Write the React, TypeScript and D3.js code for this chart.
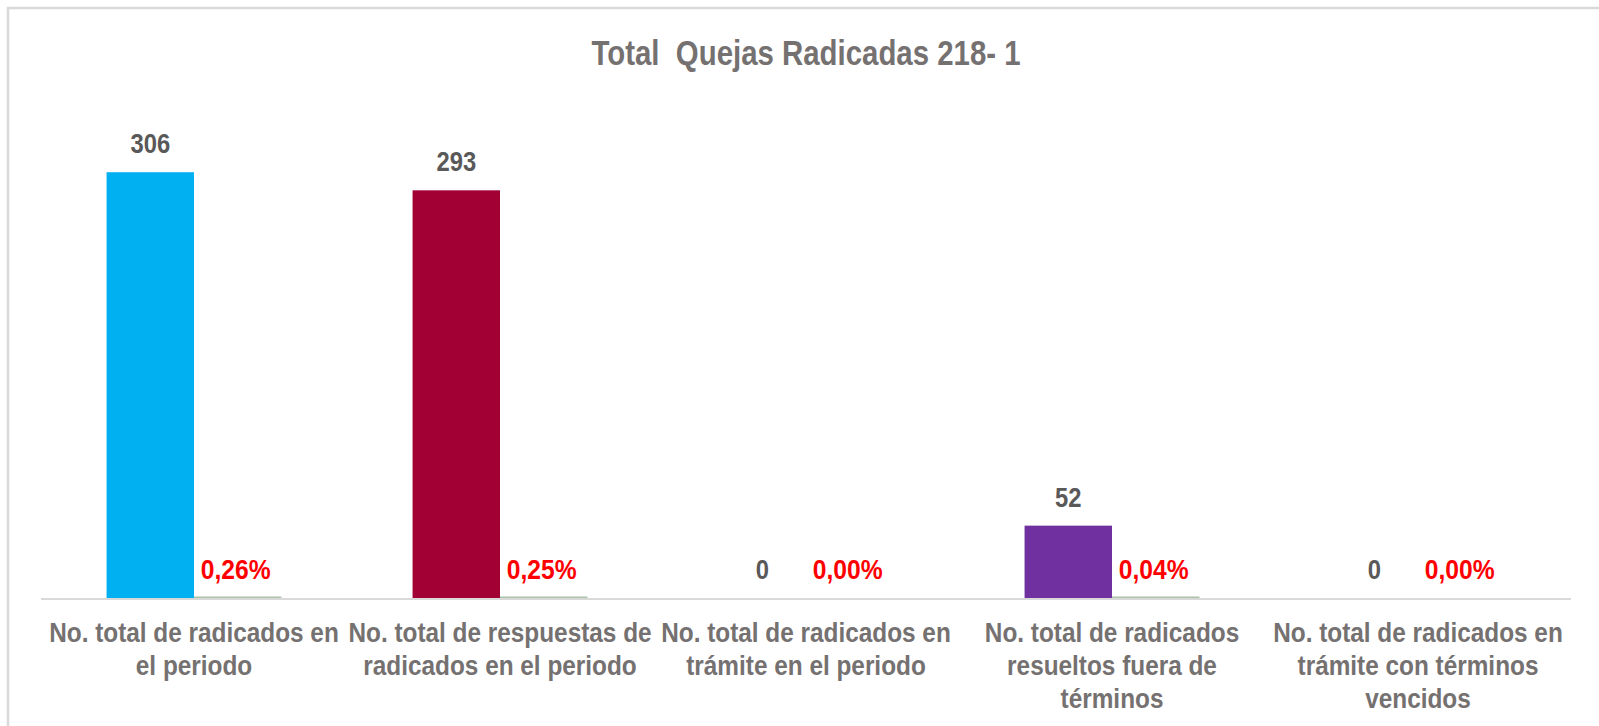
import React from "react";
import * as d3 from "d3";

// chart data
const categoryLines: string[][] = [
  ["No. total de radicados en", "el periodo"],
  ["No. total de respuestas de", "radicados en el periodo"],
  ["No. total de radicados en", "trámite en el periodo"],
  ["No. total de radicados", "resueltos fuera de", "términos"],
  ["No. total de radicados en", "trámite con términos", "vencidos"],
];
const categories = categoryLines.map((l) => l.join(" "));
const counts = [306, 293, 0, 52, 0];
const percents = [0.0026, 0.0025, 0, 0.0004, 0];
const percentLabels = ["0,26%", "0,25%", "0,00%", "0,04%", "0,00%"];
const barColors = ["#00b0f0", "#a20034", "#7f7f7f", "#7030a0", "#ffc000"];
const seriesKeys = ["count", "percent"];
const title = "Total  Quejas Radicadas 218- 1";

const W = 1599;
const H = 726;
const FONT = "'Liberation Sans', Arial, sans-serif";
// the reference uses a condensed face; squeeze a regular bold one
const SQUEEZE = 0.85;

const Label = ({ x, y, size, fill, children, sx = SQUEEZE }: any) => (
  <text
    transform={`translate(${x},${y}) scale(${sx},1)`}
    textAnchor="middle"
    fontSize={size}
    fontWeight="bold"
    fill={fill}
    style={{ whiteSpace: "pre" }}
  >
    {children}
  </text>
);

export default function App() {
  const x = d3.scaleBand<string>().domain(categories).range([41, 1571]).padding(0);
  const y = d3.scaleLinear().domain([0, 350]).range([598, 111]);
  const barW = x.bandwidth() / 3.5;
  const inner = d3.scaleBand<string>().domain(seriesKeys).range([0, barW * 2]);

  return (
    <svg
      width={W}
      height={H}
      style={{ position: "absolute", left: 0, top: 0, background: "#fff" }}
      fontFamily={FONT}
    >
      {/* chart frame */}
      <rect x={8} y={8} width={1700} height={800} fill="none" stroke="#d9d9d9" strokeWidth={2.5} />

      <Label x={806} y={65} size={35} fill="#757171" sx={0.84}>
        {title}
      </Label>

      {categories.map((c, i) => {
        const g0 = (x(c) ?? 0) + x.bandwidth() / 2 - barW;
        const cx = g0 + (inner("count") ?? 0) + inner.bandwidth() / 2;
        const px = g0 + (inner("percent") ?? 0) + inner.bandwidth() / 2;
        return (
          <g key={c}>
            <rect
              x={g0 + (inner("count") ?? 0)}
              y={y(counts[i])}
              width={inner.bandwidth()}
              height={y(0) - y(counts[i])}
              fill={barColors[i]}
            />
            {percents[i] > 0 && (
              <rect
                x={g0 + (inner("percent") ?? 0)}
                y={y(percents[i]) - 1.5}
                width={inner.bandwidth()}
                height={1.5}
                fill="#a9c4a9"
              />
            )}
            <Label x={cx} y={y(counts[i]) - 19} size={28} fill="#595959">
              {counts[i]}
            </Label>
            <Label x={px - 2} y={y(percents[i]) - 19} size={28} fill="#ff0000" sx={0.88}>
              {percentLabels[i]}
            </Label>
          </g>
        );
      })}

      <line x1={41} x2={1571} y1={y(0) + 1} y2={y(0) + 1} stroke="#d9d9d9" strokeWidth={2} />

      {categoryLines.map((lines, i) =>
        lines.map((l, j) => (
          <Label
            key={`${i}-${j}`}
            x={(x(categories[i]) ?? 0) + x.bandwidth() / 2}
            y={642 + j * 33}
            size={28}
            fill="#757171"
            sx={0.87}
          >
            {l}
          </Label>
        ))
      )}
    </svg>
  );
}
